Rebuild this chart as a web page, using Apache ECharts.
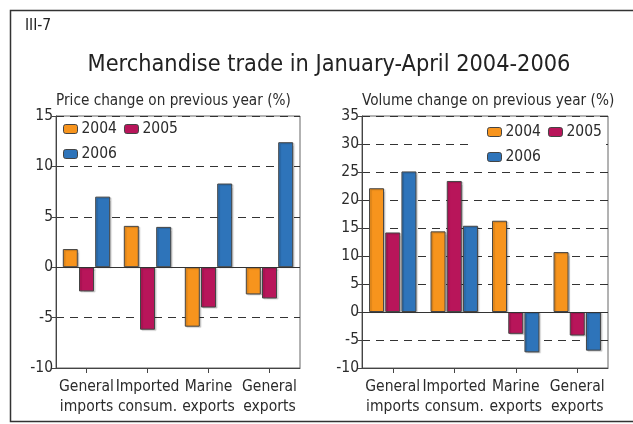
<!DOCTYPE html>
<html>
<head>
<meta charset="utf-8">
<script src="https://cdn.jsdelivr.net/npm/echarts@6/dist/echarts.min.js"></script>
<style>
html,body{margin:0;padding:0;background:#fff;}
#c{width:633px;height:424px;}
</style>
</head>
<body>
<div id="c"></div>
<script>
var categories = ['General\nimports', 'Imported\nconsum.', 'Marine\nexports', 'General\nexports'];
var years = ['2004', '2005', '2006'];
var price2004 = [1.8, 4.1, -5.9, -2.7];
var price2005 = [-2.4, -6.2, -4.0, -3.1];
var price2006 = [7.0, 4.0, 8.3, 12.4];
var volume2004 = [22.1, 14.4, 16.3, 10.7];
var volume2005 = [14.2, 23.4, -3.9, -4.2];
var volume2006 = [25.1, 15.4, -7.2, -6.9];
var priceTicks = {min: -10, max: 15, interval: 5};
var volumeTicks = {min: -10, max: 35, interval: 5};
var colors = ['#F7941D', '#B8155A', '#2E74BA'];

var FONT = 'DejaVu Sans Condensed';
var TXT = '#2b2b2b';

function yAxis(grid, ticks, name) {
  return {
    type: 'value', gridIndex: grid, min: ticks.min, max: ticks.max, interval: ticks.interval,
    name: name, nameLocation: 'end', nameGap: 4,
    nameTextStyle: {fontFamily: FONT, fontSize: 15.2, color: TXT, align: 'left', verticalAlign: 'bottom', padding: [0, 0, 0, 0]},
    axisLine: {show: true, lineStyle: {color: '#444', width: 1}},
    axisTick: {show: true, length: 4, lineStyle: {color: '#444'}},
    axisLabel: {fontFamily: FONT, fontSize: 15.5, color: TXT, margin: 3},
    splitLine: {show: true, lineStyle: {color: '#333', type: [8, 6], width: 1}}
  };
}
function xAxis(grid) {
  return {
    type: 'category', gridIndex: grid, data: categories,
    axisLine: {show: true, onZero: false, lineStyle: {color: '#444'}},
    axisTick: {show: true, alignWithLabel: true, length: 5, lineStyle: {color: '#444'}},
    axisLabel: {fontFamily: FONT, fontSize: 15.5, color: TXT, margin: 9, lineHeight: 20, interval: 0},
    splitLine: {show: false}
  };
}
function barSeries(name, data, grid, idx, zeroLine) {
  var s = {
    name: name, type: 'bar', xAxisIndex: grid, yAxisIndex: grid, data: data,
    barWidth: 15, barGap: '8%',
    itemStyle: {color: colors[idx], borderColor: '#444', borderWidth: 1,
      shadowColor: 'rgba(0,0,0,0.18)', shadowOffsetX: 1.5, shadowOffsetY: 1, shadowBlur: 1}
  };
  if (zeroLine) {
    s.markLine = {silent: true, symbol: 'none', label: {show: false},
      lineStyle: {color: '#333', type: 'solid', width: 1}, data: [{yAxis: 0}]};
  }
  return s;
}
function legend(left, top, data) {
  return {left: left, top: top, data: data, orient: 'horizontal', padding: 0, itemGap: 7,
    itemWidth: 14, itemHeight: 9, selectedMode: false,
    itemStyle: {borderColor: '#444', borderWidth: 1},
    textStyle: {fontFamily: FONT, fontSize: 15.5, color: TXT, padding: [0, 0, 0, -1]}};
}

var chart = echarts.init(document.getElementById('c'));
chart.setOption({
  animation: false,
  backgroundColor: '#fff',
  title: [
    {text: 'Merchandise trade in January-April 2004-2006', left: 324, top: 48, textAlign: 'center',
      textStyle: {fontFamily: FONT, fontSize: 23.3, fontWeight: 'normal', color: '#222'}},
    {text: 'III-7', left: 20, top: 13, textStyle: {fontFamily: FONT, fontSize: 15.5, fontWeight: 'normal', color: '#222'}}
  ],
  graphic: [
    {type: 'rect', shape: {x: 10.5, y: 10.5, width: 640, height: 411}, style: {fill: 'none', stroke: '#333', lineWidth: 1.5}, z: 0},
    {type: 'rect', shape: {x: 470, y: 124, width: 136, height: 42}, style: {fill: '#fff'}, z: 3}
  ],
  grid: [
    {left: 56, top: 116, width: 244, height: 252, show: true, borderColor: '#666', borderWidth: 1, backgroundColor: 'transparent'},
    {left: 362, top: 116, width: 246, height: 252, show: true, borderColor: '#666', borderWidth: 1, backgroundColor: 'transparent'}
  ],
  legend: [
    legend(63, 121, ['2004', '2005']),
    legend(63, 146, ['2006']),
    legend(487, 124, ['2004', '2005']),
    legend(487, 149, ['2006'])
  ],
  xAxis: [xAxis(0), xAxis(1)],
  yAxis: [yAxis(0, priceTicks, 'Price change on previous year (%)'), yAxis(1, volumeTicks, 'Volume change on previous year (%)')],
  series: [
    barSeries(years[0], price2004, 0, 0, true),
    barSeries(years[1], price2005, 0, 1, false),
    barSeries(years[2], price2006, 0, 2, false),
    barSeries(years[0], volume2004, 1, 0, true),
    barSeries(years[1], volume2005, 1, 1, false),
    barSeries(years[2], volume2006, 1, 2, false)
  ]
});
</script>
</body>
</html>
